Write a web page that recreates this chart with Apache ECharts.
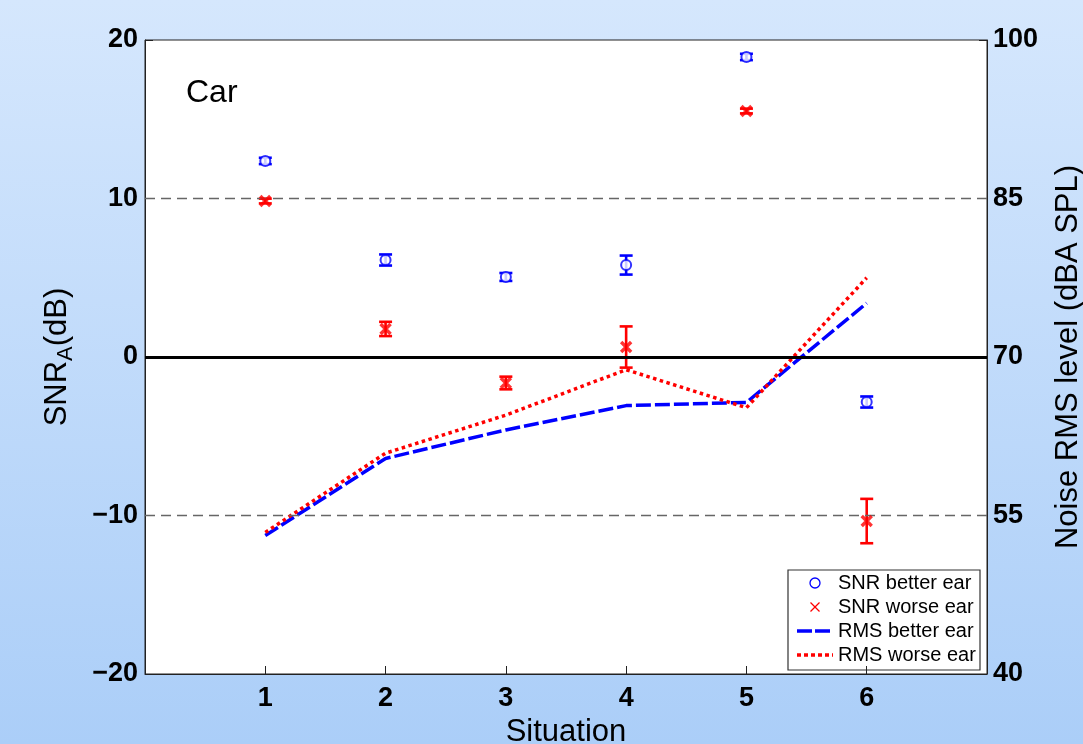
<!DOCTYPE html>
<html>
<head>
<meta charset="utf-8">
<script src="https://cdn.jsdelivr.net/npm/echarts@6/dist/echarts.min.js"></script>
<style>
html,body{margin:0;padding:0;width:1083px;height:744px;overflow:hidden;}
#c{width:1083px;height:744px;}
</style>
</head>
<body>
<div id="c"></div>
<script>
// ---- data ----
var situations = [1, 2, 3, 4, 5, 6];
var snrBetter = [12.37, 6.12, 5.05, 5.8, 18.93, -2.84];
var snrBetterErr = [0.2, 0.35, 0.25, 0.6, 0.2, 0.35];
var snrWorse = [9.84, 1.77, -1.64, 0.63, 15.52, -10.35];
var snrWorseErr = [0.15, 0.45, 0.4, 1.3, 0.15, 1.4];
var rmsBetter = [53.1, 60.4, 63.1, 65.4, 65.7, 75.1];
var rmsWorse = [53.4, 60.9, 64.5, 68.8, 65.2, 77.5];
var legendNames = ['SNR better ear', 'SNR worse ear', 'RMS better ear', 'RMS worse ear'];

var fontFam = '"Liberation Sans", Arial, Helvetica, sans-serif';
var blue = '#0000ff', red = '#ff0000';
var xPath = 'path://M0,0 L10,10 M10,0 L0,10';

function pairs(vals){ return vals.map(function(v,i){ return [situations[i], v]; }); }
function errData(vals, errs){ return vals.map(function(v,i){ return [situations[i], v-errs[i], v+errs[i]]; }); }
function errRender(color){
  return function(params, api){
    var x = api.value(0), lo = api.value(1), hi = api.value(2);
    var p1 = api.coord([x, hi]), p2 = api.coord([x, lo]);
    var w = 6.5;
    var st = {stroke: color, lineWidth: 2.6};
    return {type:'group', children:[
      {type:'line', shape:{x1:p1[0], y1:p1[1], x2:p2[0], y2:p2[1]}, style:st},
      {type:'line', shape:{x1:p1[0]-w, y1:p1[1], x2:p1[0]+w, y2:p1[1]}, style:st},
      {type:'line', shape:{x1:p2[0]-w, y1:p2[1], x2:p2[0]+w, y2:p2[1]}, style:st}
    ]};
  };
}
function minus(v){ return v < 0 ? '\u2212' + Math.abs(v) : String(v); }

// legend drawn as graphic
var lgX = 788, lgY = 570, lgW = 192, lgH = 100, rowH = 24, icX = 815;
function rowY(i){ return lgY + 13 + i * rowH; }
var legendEls = [
  {type:'rect', shape:{x:lgX, y:lgY, width:lgW, height:lgH}, style:{fill:'#fff', stroke:'#333', lineWidth:1.2}},
  {type:'circle', shape:{cx:icX, cy:rowY(0), r:5}, style:{fill:'none', stroke:blue, lineWidth:1.3}},
  {type:'line', shape:{x1:icX-4.5, y1:rowY(1)-4.5, x2:icX+4.5, y2:rowY(1)+4.5}, style:{stroke:red, lineWidth:1.3}},
  {type:'line', shape:{x1:icX-4.5, y1:rowY(1)+4.5, x2:icX+4.5, y2:rowY(1)-4.5}, style:{stroke:red, lineWidth:1.3}},
  {type:'line', shape:{x1:797, y1:rowY(2), x2:833, y2:rowY(2)}, style:{stroke:blue, lineWidth:3.5, lineDash:[15,3]}},
  {type:'line', shape:{x1:797, y1:rowY(3), x2:833, y2:rowY(3)}, style:{stroke:red, lineWidth:3.5, lineDash:[4,3]}}
];
legendNames.forEach(function(n, i){
  legendEls.push({type:'text', x:838, y:rowY(i), style:{text:n, fill:'#000', font:'20px ' + fontFam, textVerticalAlign:'middle', verticalAlign:'middle'}});
});

var chart = echarts.init(document.getElementById('c'), null, {renderer:'canvas'});
chart.setOption({
  animation: false,
  backgroundColor: {type:'linear', x:0, y:0, x2:0, y2:1, colorStops:[{offset:0,color:'#d5e7fd'},{offset:1,color:'#abcef8'}]},
  grid: {left:145, right:96, top:40, bottom:70, show:true, backgroundColor:'#ffffff', borderColor:'#222', borderWidth:1, containLabel:false, outerBoundsMode:'none'},
  title: {text:'Car', left:181, top:72, textStyle:{fontFamily:fontFam, fontSize:32, fontWeight:'normal', color:'#000'}},
  graphic: legendEls,
  xAxis: {
    type:'value', min:0, max:7, interval:1,
    name:'Situation', nameLocation:'middle', nameGap:36,
    nameTextStyle:{fontFamily:fontFam, fontSize:31, color:'#000'},
    axisLine:{show:true, onZero:false, lineStyle:{color:'#222', width:1}},
    axisTick:{show:true, inside:true, length:8, lineStyle:{color:'#222'}},
    axisLabel:{fontFamily:fontFam, fontSize:27, fontWeight:'bold', color:'#000', margin:11,
      formatter:function(v){ return (v>=1 && v<=6) ? String(v) : ''; }},
    splitLine:{show:false}
  },
  yAxis: [{
    type:'value', min:-20, max:20, interval:10, position:'left',
    name:'{a|SNR}{s|A}{a|(dB)}', nameLocation:'middle', nameGap:68, nameRotate:90,
    nameTextStyle:{rich:{a:{fontFamily:fontFam, fontSize:31, color:'#000'}, s:{fontFamily:fontFam, fontSize:22, color:'#000', padding:[18,0,0,0]}}},
    axisLine:{show:true, onZero:false, lineStyle:{color:'#222', width:1}},
    axisTick:{show:true, inside:true, length:8, lineStyle:{color:'#222'}},
    axisLabel:{fontFamily:fontFam, fontSize:27, fontWeight:'bold', color:'#000', margin:7, formatter:minus},
    splitLine:{show:false}
  },{
    type:'value', min:40, max:100, interval:15, position:'right',
    name:'Noise RMS level (dBA SPL)', nameLocation:'middle', nameGap:66, nameRotate:90,
    nameTextStyle:{fontFamily:fontFam, fontSize:31, color:'#000'},
    axisLine:{show:true, onZero:false, lineStyle:{color:'#222', width:1}},
    axisTick:{show:true, inside:true, length:8, lineStyle:{color:'#222'}},
    axisLabel:{fontFamily:fontFam, fontSize:27, fontWeight:'bold', color:'#000', margin:6},
    splitLine:{show:false}
  }],
  series: [
    {
      name:'refs', type:'line', data:[], yAxisIndex:0, silent:true,
      markLine:{symbol:'none', silent:true, label:{show:false}, data:[
        {yAxis:10, lineStyle:{color:'#666', type:[10,6], width:1.4}},
        {yAxis:-10, lineStyle:{color:'#666', type:[10,6], width:1.4}},
        {yAxis:0, lineStyle:{color:'#000', type:'solid', width:3}}
      ]}
    },
    {
      name:'RMS better ear', type:'line', yAxisIndex:1, data:pairs(rmsBetter),
      symbol:'none', lineStyle:{color:blue, width:3.5, type:[15,4]}, itemStyle:{color:blue}, z:3
    },
    {
      name:'RMS worse ear', type:'line', yAxisIndex:1, data:pairs(rmsWorse),
      symbol:'none', lineStyle:{color:red, width:3.5, type:[3.5,3.5]}, itemStyle:{color:red}, z:3
    },
    {
      name:'SNR better ear', type:'scatter', yAxisIndex:0, data:pairs(snrBetter),
      symbol:'emptyCircle', symbolSize:10, itemStyle:{color:blue, borderColor:blue, borderWidth:3.6}, z:5
    },
    {
      name:'SNR worse ear', type:'scatter', yAxisIndex:0, data:pairs(snrWorse),
      symbol:xPath, symbolSize:10, itemStyle:{color:red, borderColor:red, borderWidth:3.4}, z:5
    },
    {
      name:'errB', type:'custom', yAxisIndex:0, data:errData(snrBetter, snrBetterErr),
      renderItem:errRender(blue), z:4, silent:true
    },
    {
      name:'errW', type:'custom', yAxisIndex:0, data:errData(snrWorse, snrWorseErr),
      renderItem:errRender(red), z:4, silent:true
    }
  ]
});
</script>
</body>
</html>
